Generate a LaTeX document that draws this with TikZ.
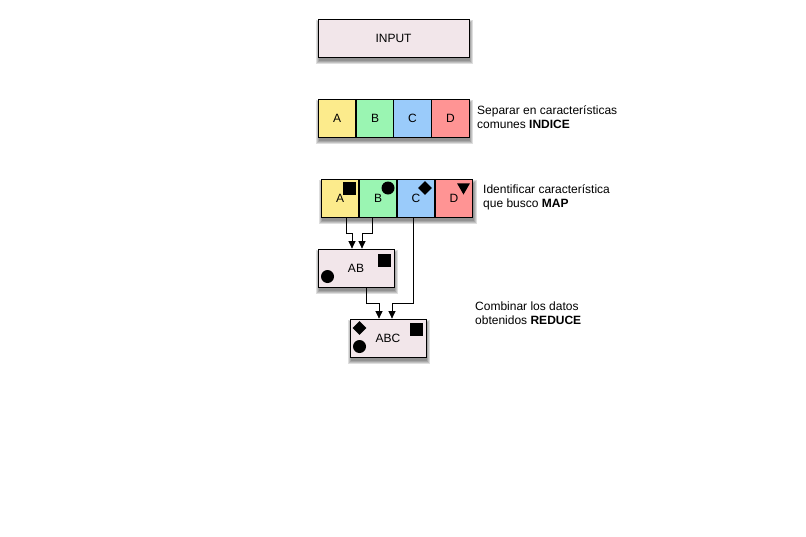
\documentclass[tikz,border=0pt]{standalone}
\usepackage{fontspec}
\setmainfont{Liberation Sans}
\usetikzlibrary{arrows.meta,backgrounds,shapes.geometric}
\definecolor{boxpink}{HTML}{F2E6EA}
\definecolor{cA}{HTML}{FCEB8C}
\definecolor{cB}{HTML}{9AF5B2}
\definecolor{cC}{HTML}{9ACBFA}
\definecolor{cD}{HTML}{FF9494}
\tikzset{
  bx/.style={draw=black, line width=0.8pt, inner sep=0pt, font=\fontsize{12}{13}\selectfont},
  cell/.style={draw=black, line width=0.8pt, minimum width=37.75pt, minimum height=38pt, inner sep=0pt,
    font=\fontsize{12}{13}\selectfont},
  lbl/.style={anchor=north west, align=left, inner sep=0pt, font=\fontsize{12}{14}\selectfont},
  sq/.style={fill=black, minimum size=13pt, inner sep=0pt},
  dot/.style={circle, fill=black, minimum size=13pt, inner sep=0pt},
  dia/.style={diamond, fill=black, minimum size=14pt, inner sep=0pt},
  tri/.style={isosceles triangle, isosceles triangle apex angle=60, shape border rotate=-90, fill=black, minimum width=13pt, inner sep=0pt},
  arr/.style={-{Triangle[length=7.5pt,width=7pt]}, line width=0.7pt},
  shdlayer/.style={fill=black, opacity=0.13},
}
\begin{document}
\begin{tikzpicture}[x=1pt,y=-1pt]
\useasboundingbox (0,0) rectangle (806,536);
% INPUT
\node[bx, fill=boxpink, minimum width=151pt, minimum height=38pt] (input) at (393.5,38) {INPUT};
% row 1
\node[minimum width=151pt, minimum height=38pt, inner sep=0pt] (row1) at (393.5,118) {};
\node[cell, fill=cA] (A1) at (337,118) {A};
\node[cell, fill=cB] (B1) at (375,118) {B};
\node[cell, fill=cC] (C1) at (412.5,118) {C};
\node[cell, fill=cD] (D1) at (450.5,118) {D};
\node[lbl] (t1) at (477,105) {Separar en características\\comunes \textbf{INDICE}};
% row 2
\node[minimum width=151pt, minimum height=38pt, inner sep=0pt] (row2) at (397,198) {};
\node[cell, fill=cA] (A2) at (340,198) {A};
\node[cell, fill=cB] (B2) at (378,198) {B};
\node[cell, fill=cC] (C2) at (416,198) {C};
\node[cell, fill=cD] (D2) at (454,198) {D};
\node[sq] (sqA) at (349.5,188.5) {};
\node[dot] (dotB) at (388,188) {};
\node[dia] (diaC) at (425,188) {};
\node[tri] (triD) at (463.5,187) {};
\node[lbl] (t2) at (483,184) {Identificar característica\\que busco \textbf{MAP}};
% AB
\node[bx, fill=boxpink, minimum width=76pt, minimum height=38pt] (AB) at (356,268) {AB};
\node[sq] (sqAB) at (384.5,260.5) {};
\node[dot] (dotAB) at (327.5,276.5) {};
% ABC
\node[bx, fill=boxpink, minimum width=76pt, minimum height=38pt] (ABC) at (388,338) {ABC};
\node[sq] (sqABC) at (416.5,329.5) {};
\node[dia] (diaABC) at (359.5,328) {};
\node[dot] (dotABC) at (359.5,346.5) {};
\node[lbl] (t3) at (475,302) {Combinar los datos\\obtenidos \textbf{REDUCE}};
% shadows
\begin{scope}[on background layer]
\foreach \n in {input,row1,row2,AB,ABC}{
  \foreach \d in {0,1,2,3}{
    \fill[shdlayer] ([xshift=-\d pt+1pt, yshift=-4pt-\d pt]\n.south west) rectangle ([xshift=\d pt+1pt, yshift=-4pt+\d pt]\n.north east);
  }
}
\end{scope}
% connectors
\coordinate (ja) at ([xshift=6pt]A2.south |- 0,233);
\coordinate (jb) at ([xshift=-6pt]B2.south |- 0,233);
\draw[arr] ([xshift=6pt]A2.south) -- (ja) -| ([xshift=-4pt]AB.north);
\draw[arr] ([xshift=-6pt]B2.south) -- (jb) -| ([xshift=6pt]AB.north);
\coordinate (jab) at ([xshift=10pt]AB.south |- 0,303);
\coordinate (jc) at ([xshift=-3pt]C2.south |- 0,303);
\draw[arr] ([xshift=10pt]AB.south) -- (jab) -| ([xshift=-9pt]ABC.north);
\draw[arr] ([xshift=-3pt]C2.south) -- (jc) -| ([xshift=4pt]ABC.north);
\end{tikzpicture}
\end{document}
